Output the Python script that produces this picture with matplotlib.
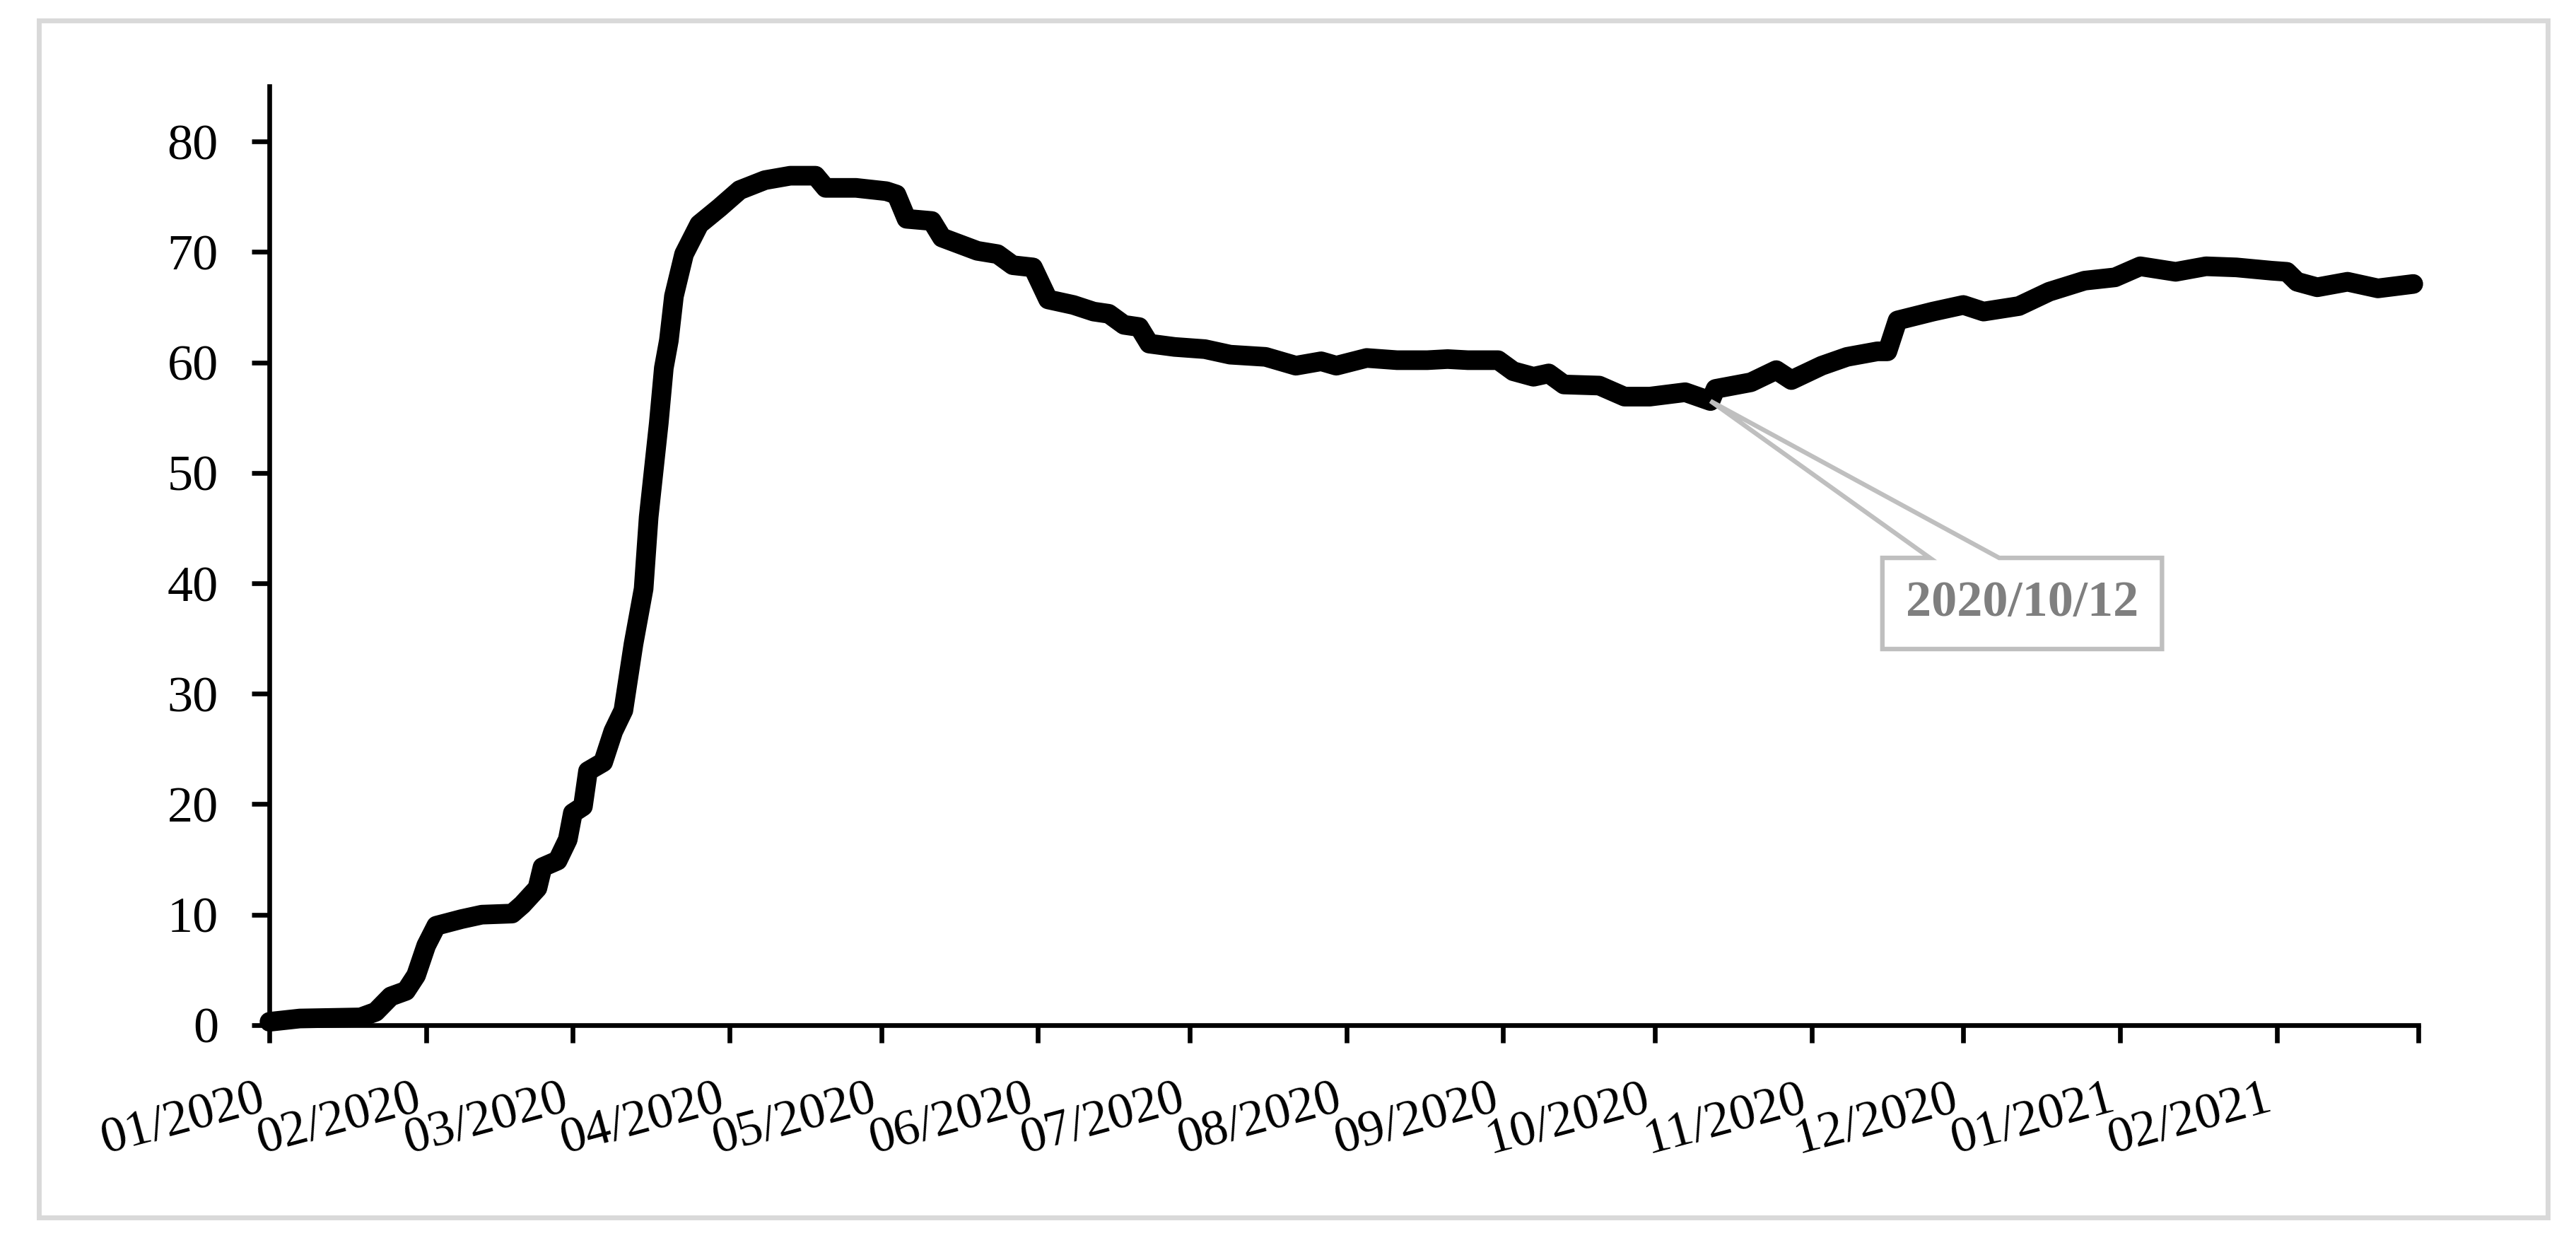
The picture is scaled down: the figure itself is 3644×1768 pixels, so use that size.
import matplotlib
matplotlib.use("Agg")
import matplotlib.pyplot as plt
import matplotlib.dates as mdates
from matplotlib.patches import Rectangle, Polygon
import pandas as pd

# datos (fecha, valor)
fechas = [
    "2020-01-01", "2020-01-07", "2020-01-19", "2020-01-22", "2020-01-25", "2020-01-28",
    "2020-01-30", "2020-02-01", "2020-02-03", "2020-02-08", "2020-02-12", "2020-02-18",
    "2020-02-20", "2020-02-23", "2020-02-24", "2020-02-27", "2020-02-29", "2020-03-01",
    "2020-03-03", "2020-03-04", "2020-03-07", "2020-03-09", "2020-03-11", "2020-03-13",
    "2020-03-15", "2020-03-16", "2020-03-18", "2020-03-19", "2020-03-20", "2020-03-21",
    "2020-03-23", "2020-03-26", "2020-03-30", "2020-04-03", "2020-04-08", "2020-04-13",
    "2020-04-18", "2020-04-20", "2020-04-26", "2020-05-02", "2020-05-04", "2020-05-06",
    "2020-05-11", "2020-05-13", "2020-05-20", "2020-05-24", "2020-05-27", "2020-05-31",
    "2020-06-03", "2020-06-08", "2020-06-12", "2020-06-15", "2020-06-18", "2020-06-21",
    "2020-06-23", "2020-06-28", "2020-07-04", "2020-07-09", "2020-07-16", "2020-07-22",
    "2020-07-27", "2020-07-30", "2020-08-05", "2020-08-11", "2020-08-17", "2020-08-21",
    "2020-08-25", "2020-08-31", "2020-09-03", "2020-09-07", "2020-09-10", "2020-09-13",
    "2020-09-20", "2020-09-25", "2020-09-30", "2020-10-07", "2020-10-12", "2020-10-13",
    "2020-10-20", "2020-10-25", "2020-10-28", "2020-11-03", "2020-11-08", "2020-11-14",
    "2020-11-16", "2020-11-18", "2020-11-25", "2020-12-01", "2020-12-05", "2020-12-12",
    "2020-12-18", "2020-12-25", "2020-12-31", "2021-01-05", "2021-01-12", "2021-01-18",
    "2021-01-24", "2021-01-31", "2021-02-03", "2021-02-05", "2021-02-09", "2021-02-15",
    "2021-02-21", "2021-02-28",
]
valores = [
    0.3, 0.6, 0.7, 1.2, 2.6, 3.1,
    4.5, 7.2, 9.0, 9.6, 10.0, 10.1,
    10.9, 12.4, 14.3, 14.9, 16.8, 19.2,
    19.8, 23.0, 23.8, 26.6, 28.5, 34.5,
    39.5, 46.0, 54.5, 59.5, 62.0, 66.0,
    69.8, 72.5, 74.0, 75.6, 76.5, 76.9,
    76.9, 75.8, 75.8, 75.5, 75.2, 73.0,
    72.8, 71.3, 70.1, 69.8, 68.8, 68.6,
    65.7, 65.2, 64.6, 64.4, 63.4, 63.2,
    61.7, 61.4, 61.2, 60.7, 60.5, 59.7,
    60.1, 59.7, 60.4, 60.2, 60.2, 60.3,
    60.2, 60.2, 59.2, 58.7, 59.0, 58.0,
    57.9, 56.9, 56.9, 57.3, 56.5, 57.6,
    58.2, 59.3, 58.4, 59.7, 60.5, 61.0,
    61.0, 63.8, 64.6, 65.2, 64.6, 65.1,
    66.4, 67.4, 67.7, 68.7, 68.2, 68.7,
    68.6, 68.3, 68.2, 67.3, 66.8, 67.3,
    66.7, 67.1,
]

ticks_mes = pd.date_range("2020-01-01", "2021-03-01", freq="MS")
etiquetas_mes = [d.strftime("%m/%Y") for d in ticks_mes[:-1]] + [""]
yticks = [0, 10, 20, 30, 40, 50, 60, 70, 80]

fecha_nota = "2020-10-12"
texto_nota = "2020/10/12"

fuente = "Liberation Serif"

fig = plt.figure(figsize=(18.22, 8.84), dpi=200)
fig.patches.append(Rectangle((0.0151, 0.026), 0.9739, 0.9576, transform=fig.transFigure,
                             fill=False, edgecolor="#d9d9d9", linewidth=2.5))

ax = fig.add_axes([0.1046, 0.1799, 0.8342, 0.7511])
x = pd.to_datetime(fechas)
ax.plot(x, valores, color="black", linewidth=10, solid_joinstyle="round",
        solid_capstyle="round", zorder=3, clip_on=False)

ax.set_xlim(ticks_mes[0], ticks_mes[-1])
ax.set_ylim(0, 85)
ax.set_yticks(yticks)
ax.set_yticklabels([str(v) for v in yticks], fontsize=26, family=fuente)
ax.set_xticks(ticks_mes)
ax.set_xticklabels(etiquetas_mes, fontsize=26, family=fuente, rotation=15, ha="right")

for lado in ["top", "right"]:
    ax.spines[lado].set_visible(False)
for lado in ["left", "bottom"]:
    ax.spines[lado].set_linewidth(2.4)
ax.tick_params(axis="both", direction="out", length=9, width=2.4, colors="black")
ax.tick_params(axis="y", pad=17)
ax.tick_params(axis="x", pad=17)

# llamada con el recuadro de la fecha
t0 = mdates.date2num(pd.Timestamp(fecha_nota))
v0 = valores[fechas.index(fecha_nota)]
izq, der, arriba, abajo = t0 + 34.0, t0 + 89.3, 42.3, 34.05
base_i, base_d = t0 + 43.4, t0 + 57.1
verts = [(t0, v0), (base_i, arriba), (izq, arriba), (izq, abajo),
         (der, abajo), (der, arriba), (base_d, arriba), (t0, v0)]
ax.add_patch(Polygon(verts, closed=True, facecolor="white", edgecolor="#bfbfbf",
                     linewidth=2.3, joinstyle="miter", zorder=4, clip_on=False))
ax.text((izq + der) / 2, (arriba + abajo) / 2, texto_nota, ha="center", va="center",
        fontsize=26, fontweight="bold", color="#7f7f7f", family=fuente, zorder=5)

fig.savefig("out.png", dpi=200)
